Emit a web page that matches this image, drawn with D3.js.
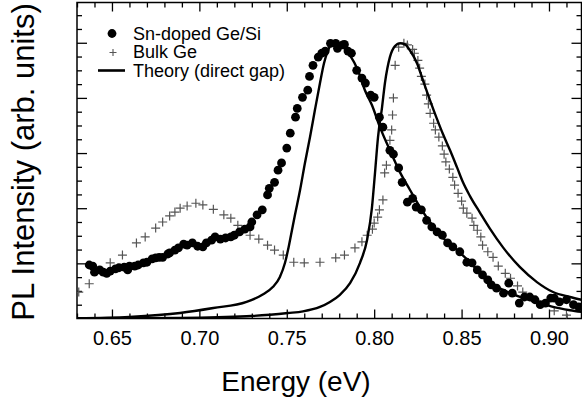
<!DOCTYPE html>
<html>
<head>
<meta charset="utf-8">
<script src="https://cdn.jsdelivr.net/npm/d3@7"></script>
<style>
  body { margin: 0; background: #fff; }
  text { font-family: "Liberation Sans", Arial, Helvetica, sans-serif; }
</style>
</head>
<body>
<div id="chart"></div>
<script>
// Sn-doped Ge/Si measured PL (filled dots)
const snEnergy = [0.637,0.639,0.640,0.643,0.645,0.647,0.649,0.652,0.654,0.657,0.659,0.660,0.663,0.665,0.668,0.670,0.673,0.675,0.677,0.679,0.682,0.683,0.686,0.688,0.691,0.693,0.696,0.699,0.702,0.704,0.707,0.709,0.712,0.715,0.718,0.720,0.723,0.726,0.729,0.730,0.733,0.736,0.739,0.740,0.743,0.745,0.747,0.750,0.752,0.755,0.756,0.759,0.762,0.763,0.765,0.768,0.770,0.772,0.775,0.778,0.779,0.782,0.783,0.785,0.787,0.790,0.793,0.795,0.798,0.800,0.803,0.805,0.809,0.811,0.814,0.816,0.819,0.822,0.824,0.827,0.830,0.833,0.836,0.839,0.842,0.845,0.849,0.853,0.856,0.859,0.862,0.865,0.867,0.870,0.874,0.877,0.879,0.883,0.886,0.889,0.892,0.895,0.898,0.901,0.903,0.906,0.910,0.914,0.917];
const snPL = [0.97,0.95,0.84,0.88,0.84,0.82,0.86,0.90,0.92,0.93,0.88,0.95,0.95,0.97,1.01,1.02,1.08,1.10,1.11,1.11,1.17,1.19,1.24,1.28,1.35,1.33,1.37,1.31,1.30,1.37,1.42,1.48,1.44,1.46,1.48,1.51,1.57,1.62,1.66,1.75,1.88,1.97,2.24,2.36,2.47,2.69,2.82,3.09,3.36,3.65,3.81,4.01,4.14,4.39,4.59,4.74,4.81,4.85,4.99,4.99,4.90,4.96,4.97,4.85,4.81,4.50,4.36,4.27,4.05,4.01,3.65,3.47,3.05,2.98,2.73,2.47,2.11,2.18,2.02,1.97,1.78,1.66,1.57,1.51,1.37,1.30,1.21,1.02,1.01,0.88,0.79,0.70,0.61,0.55,0.46,0.64,0.46,0.28,0.39,0.39,0.34,0.25,0.28,0.37,0.37,0.30,0.34,0.25,0.21];

// Bulk Ge measured PL (crosses)
const geEnergy = [0.631,0.637,0.649,0.656,0.664,0.669,0.675,0.679,0.683,0.686,0.689,0.693,0.698,0.702,0.708,0.714,0.718,0.722,0.729,0.734,0.739,0.743,0.748,0.754,0.760,0.769,0.778,0.783,0.789,0.793,0.796,0.799,0.800,0.802,0.803,0.805,0.806,0.807,0.809,0.810,0.8105,0.811,0.812,0.814,0.817,0.819,0.822,0.823,0.825,0.826,0.827,0.829,0.830,0.831,0.832,0.834,0.835,0.837,0.839,0.840,0.841,0.843,0.845,0.846,0.848,0.850,0.851,0.853,0.856,0.857,0.859,0.861,0.862,0.865,0.868,0.871,0.875,0.878,0.882,0.885,0.903,0.910];
const gePL = [0.48,0.63,1.01,1.15,1.37,1.48,1.64,1.75,1.86,1.93,2.00,2.04,2.09,2.06,1.98,1.88,1.82,1.69,1.51,1.44,1.33,1.24,1.15,1.02,1.01,1.02,1.10,1.15,1.28,1.39,1.51,1.62,1.73,1.84,1.97,2.15,2.64,2.78,3.23,3.42,3.69,4.00,4.59,4.92,4.99,4.96,4.88,4.81,4.68,4.54,4.39,4.25,4.05,3.89,3.72,3.54,3.42,3.29,3.13,2.98,2.84,2.71,2.56,2.42,2.27,2.13,2.00,1.91,1.82,1.69,1.60,1.48,1.33,1.21,1.11,0.95,0.82,0.73,0.59,0.48,0.14,0.06];

// Theory (direct gap) for Sn-doped Ge/Si
const thSnEnergy = [0.630,0.660,0.689,0.708,0.727,0.736,0.742,0.746,0.749,0.7507,0.7524,0.7547,0.7576,0.7604,0.7633,0.7661,0.769,0.7713,0.7736,0.7759,0.7787,0.7822,0.7862,0.7907,0.7947,0.7987,0.8033,0.809,0.8148,0.8205,0.8262,0.8319,0.8394,0.8474,0.8548,0.8645,0.8737,0.8834,0.8931,0.9023,0.912,0.9186];
const thSnPL = [0.005,0.03,0.10,0.19,0.30,0.43,0.57,0.75,1.01,1.24,1.51,1.88,2.33,2.82,3.29,3.78,4.27,4.63,4.86,4.99,4.97,4.92,4.77,4.50,4.14,3.87,3.47,3.05,2.65,2.33,2.02,1.75,1.46,1.24,1.02,0.68,0.52,0.39,0.30,0.21,0.15,0.12];

// Theory (direct gap) for bulk Ge
const thGeEnergy = [0.630,0.689,0.727,0.7507,0.7593,0.769,0.7747,0.7804,0.7862,0.7919,0.7959,0.7987,0.8005,0.8022,0.8045,0.8062,0.809,0.8119,0.8148,0.8176,0.8205,0.8245,0.8279,0.8319,0.8359,0.8394,0.8434,0.8474,0.8508,0.8548,0.8605,0.8662,0.8737,0.8834,0.8931,0.9023,0.912,0.9186];
const thGePL = [0.0,0.01,0.04,0.10,0.13,0.21,0.30,0.43,0.64,1.01,1.42,2.00,2.65,3.29,3.83,4.28,4.74,4.94,4.99,4.97,4.86,4.63,4.32,3.96,3.62,3.34,3.05,2.74,2.47,2.22,1.92,1.63,1.29,0.93,0.66,0.48,0.39,0.34];

const xMajor = [0.65, 0.70, 0.75, 0.80, 0.85, 0.90];
const xLabels = ["0.65", "0.70", "0.75", "0.80", "0.85", "0.90"];
const yMajor = [1, 2, 3, 4, 5];

const legendNames = ["Sn-doped Ge/Si", "Bulk Ge", "Theory (direct gap)"];

const W = 582, H = 410;
const mLeft = 77, mRight = 581.5, mTop = 2.5, mBottom = 318.5;

const x = d3.scaleLinear().domain([0.63, 0.9186]).range([mLeft, mRight]);
const y = d3.scaleLinear().domain([0, 5.73]).range([mBottom, mTop]);

const svg = d3.select("#chart").append("svg")
  .attr("width", W).attr("height", H)
  .attr("viewBox", [0, 0, W, H]);

svg.append("defs").append("clipPath").attr("id", "plot")
  .append("rect").attr("x", mLeft).attr("y", mTop)
  .attr("width", mRight - mLeft).attr("height", mBottom - mTop);

const xMinor = d3.range(63, 92).map(d => d / 100).filter(d => !xMajor.some(m => Math.abs(m - d) < 1e-6));
const yMinor = d3.range(1, 23).map(d => d / 4).filter(d => d % 1 !== 0);

function styleAxis(g) {
  g.select(".domain").remove();
  g.selectAll(".tick line").attr("stroke", "#000").attr("stroke-width", 1.3);
}

// bottom axis
svg.append("g").attr("transform", `translate(0,${mBottom})`)
  .call(d3.axisBottom(x).tickValues(xMajor).tickSize(-9).tickPadding(12)
    .tickFormat((d, i) => xLabels[i]))
  .call(styleAxis)
  .call(g => g.selectAll("text").attr("font-size", 20).attr("fill", "#000")
    .attr("font-family", "'Liberation Sans', Arial, sans-serif"));
svg.append("g").attr("transform", `translate(0,${mBottom})`)
  .call(d3.axisBottom(x).tickValues(xMinor).tickSize(-5).tickFormat(""))
  .call(styleAxis);

// top axis
svg.append("g").attr("transform", `translate(0,${mTop})`)
  .call(d3.axisTop(x).tickValues(xMajor).tickSize(-9).tickFormat(""))
  .call(styleAxis);
svg.append("g").attr("transform", `translate(0,${mTop})`)
  .call(d3.axisTop(x).tickValues(xMinor).tickSize(-5).tickFormat(""))
  .call(styleAxis);

// left axis
svg.append("g").attr("transform", `translate(${mLeft},0)`)
  .call(d3.axisLeft(y).tickValues(yMajor).tickSize(-10).tickFormat(""))
  .call(styleAxis);
svg.append("g").attr("transform", `translate(${mLeft},0)`)
  .call(d3.axisLeft(y).tickValues(yMinor).tickSize(-5).tickFormat(""))
  .call(styleAxis);

// right axis
svg.append("g").attr("transform", `translate(${mRight},0)`)
  .call(d3.axisRight(y).tickValues(yMajor).tickSize(-10).tickFormat(""))
  .call(styleAxis);
svg.append("g").attr("transform", `translate(${mRight},0)`)
  .call(d3.axisRight(y).tickValues(yMinor).tickSize(-5).tickFormat(""))
  .call(styleAxis);

// frame
svg.append("rect")
  .attr("x", mLeft).attr("y", mTop)
  .attr("width", mRight - mLeft).attr("height", mBottom - mTop)
  .attr("fill", "none").attr("stroke", "#000").attr("stroke-width", 1.5);

const plot = svg.append("g").attr("clip-path", "url(#plot)");

const plus = "M-4.5,0H4.5M0,-4.5V4.5";

// bulk Ge crosses
plot.append("g")
  .selectAll("path")
  .data(d3.zip(geEnergy, gePL))
  .join("path")
    .attr("transform", d => `translate(${x(d[0])},${y(d[1])})`)
    .attr("d", plus)
    .attr("fill", "none")
    .attr("stroke", "#555")
    .attr("stroke-width", 1.2);

// Sn-doped dots
plot.append("g")
  .selectAll("circle")
  .data(d3.zip(snEnergy, snPL))
  .join("circle")
    .attr("cx", d => x(d[0]))
    .attr("cy", d => y(d[1]))
    .attr("r", 4.4)
    .attr("fill", "#000");

// theory lines
const line = d3.line()
  .x(d => x(d[0]))
  .y(d => y(d[1]))
  .curve(d3.curveMonotoneX);

plot.append("path")
  .attr("d", line(d3.zip(thSnEnergy, thSnPL)))
  .attr("fill", "none").attr("stroke", "#000").attr("stroke-width", 2.4);

plot.append("path")
  .attr("d", line(d3.zip(thGeEnergy, thGePL)))
  .attr("fill", "none").attr("stroke", "#000").attr("stroke-width", 2.4);

// legend
const lg = svg.append("g");
lg.append("circle").attr("cx", 112).attr("cy", 33.5).attr("r", 4.4).attr("fill", "#000");
lg.append("path").attr("transform", "translate(113,52.5)")
  .attr("d", "M-3.5,0H3.5M0,-3.5V3.5").attr("stroke", "#555").attr("stroke-width", 1.1);
lg.append("line").attr("x1", 98).attr("x2", 125).attr("y1", 70.5).attr("y2", 70.5)
  .attr("stroke", "#000").attr("stroke-width", 2.6);
lg.selectAll("text")
  .data(legendNames)
  .join("text")
    .attr("x", 133)
    .attr("y", (d, i) => 39.5 + i * 18.5)
    .attr("font-size", 18)
    .attr("fill", "#000")
    .text(d => d);

// axis titles
svg.append("text")
  .attr("x", 296).attr("y", 391)
  .attr("text-anchor", "middle")
  .attr("font-size", 28)
  .attr("fill", "#000")
  .text("Energy (eV)");

svg.append("text")
  .attr("transform", "translate(34,162) rotate(-90)")
  .attr("text-anchor", "middle")
  .attr("font-size", 31)
  .attr("fill", "#000")
  .text("PL Intensity (arb. units)");
</script>
</body>
</html>
